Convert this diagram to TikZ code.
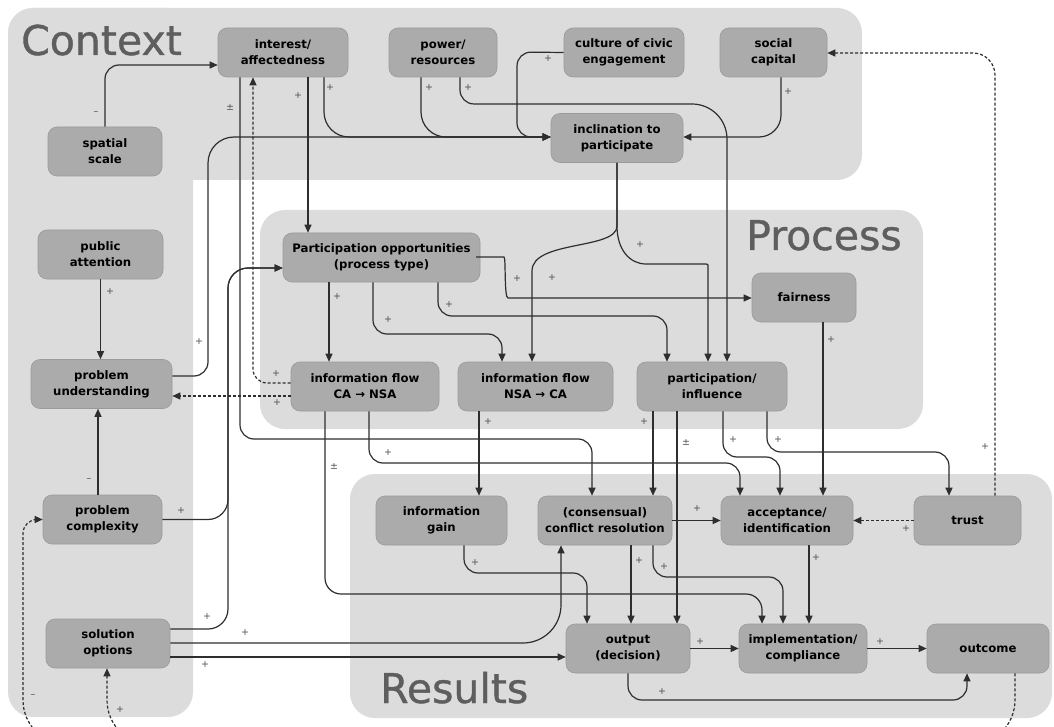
\documentclass[tikz,border=0pt]{standalone}
\usepackage{fontspec}
\setmainfont{DejaVu Sans}
\newfontfamily\bigfont{DejaVu Sans}[FakeBold=0.9]
\usetikzlibrary{arrows.meta}
\definecolor{regc}{HTML}{DCDCDC}
\definecolor{boxc}{HTML}{ABABAB}
\definecolor{boxd}{HTML}{9A9A9A}
\definecolor{linec}{HTML}{2E2E2E}
\definecolor{labc}{HTML}{505050}
\definecolor{bigc}{HTML}{5E5E5E}
\begin{document}
\begin{tikzpicture}[x=1pt,y=-1pt,
 box/.style={draw=boxd, fill=boxc, line width=0.6pt, rounded corners=9pt, minimum height=49pt, align=center, inner sep=2pt, text=black, font=\fontsize{11.7}{16}\selectfont\bfseries},
 conn/.style={draw=linec, line width=1.2pt, rounded corners=14pt},
 arr/.style={-{Triangle[length=8pt,width=7pt]}},
 dsh/.style={dash pattern=on 3pt off 2pt},
 lab/.style={text=labc, font=\fontsize{9.5}{9.5}\selectfont, inner sep=0pt},
 big/.style={text=bigc, font=\bigfont\fontsize{41}{41}\selectfont, anchor=base west, inner sep=0pt}]
\useasboundingbox (0,0) rectangle (1054,727);
% regions
\fill[regc, rounded corners=25pt] (8,8) rectangle (862,180);
\fill[regc, rounded corners=25pt] (8,8) rectangle (193,717);
\fill[regc, rounded corners=25pt] (260,210) rectangle (923,429);
\fill[regc, rounded corners=25pt] (350,474) rectangle (1052,718);
\node[big] (tcontext) at (21,55) {Context};
\node[big] (tprocess) at (746,250) {Process};
\node[big] (tresults) at (380,703) {Results};
% nodes
\node[box, minimum width=130pt] (ia) at (283,52.5) {interest/\\affectedness};
\node[box, minimum width=108pt] (pr) at (443,52.5) {power/\\resources};
\node[box, minimum width=120pt] (cce) at (624,52.5) {culture of civic\\engagement};
\node[box, minimum width=107pt] (sc) at (773.5,52.5) {social\\capital};
\node[box, minimum width=114pt] (ss) at (105,151.5) {spatial\\scale};
\node[box, minimum width=132pt] (inc) at (617,138) {inclination to\\participate};
\node[box, minimum width=125pt] (pa) at (100.5,254.5) {public\\attention};
\node[box, minimum width=141pt] (pu) at (101.5,384) {problem\\understanding};
\node[box, minimum width=197pt] (po) at (381.5,257.5) {Participation opportunities\\(process type)};
\node[box, minimum width=148pt] (cn) at (365,386.5) {information flow\\CA → NSA};
\node[box, minimum width=155pt] (nc) at (535.5,386.5) {information flow\\NSA → CA};
\node[box, minimum width=150pt] (pi) at (712,386.5) {participation/\\influence};
\node[box, minimum width=104pt] (fa) at (804,297.5) {fairness};
\node[box, minimum width=131pt] (ig) at (441.5,520.5) {information\\gain};
\node[box, minimum width=134pt] (cr) at (605,520.5) {(consensual)\\conflict resolution};
\node[box, minimum width=132pt] (ac) at (787,520.5) {acceptance/\\identification};
\node[box, minimum width=107pt] (tr) at (967.5,520.5) {trust};
\node[box, minimum width=119pt] (pc) at (102.5,519.5) {problem\\complexity};
\node[box, minimum width=124pt] (so) at (108,643.5) {solution\\options};
\node[box, minimum width=124pt] (ou) at (628,648.5) {output\\(decision)};
\node[box, minimum width=128pt] (im) at (803,648.5) {implementation/\\compliance};
\node[box, minimum width=122pt] (oc) at (988,648.5) {outcome};
% connectors: context
\draw[conn,arr] (ss.north) |- (ia.west |- 0,65);
\draw[conn,arr] (ia.south -| 240,0) -- (240,439) -- (592,439) -- (cr.north -| 592,0);
\draw[conn,arr] (ia.south -| 308,0) -- (po.north -| 308,0);
\draw[conn,arr,rounded corners=25pt] (ia.south -| 324,0) -- (324,137) -- (inc.west |- 0,137);
\draw[conn,arr,rounded corners=25pt] (pr.south -| 421,0) -- (421,137) -- (inc.west |- 0,137);
\draw[conn,arr] (pr.south -| 460,0) -- (460,104) [rounded corners=35pt] -- (727,104) -- (pi.north -| 727,0);
\draw[conn,arr] (cce.west) -- (517,52) -- (517,137) -- (inc.west |- 0,137);
\draw[conn,arr,rounded corners=22pt] (sc.south -| 781,0) -- (781,137) -- (inc.east |- 0,137);
\draw[conn,arr] (pu.east |- 0,376) -- (208,376) [rounded corners=26pt] -- (208,137) -- (inc.west |- 0,137);
\draw[conn,arr] (pa.south) -- (pa.south |- pu.north);
\draw[conn,arr] (pc.north -| 98,0) -- (pu.south -| 98,0);
\draw[conn,arr,rounded corners=20pt] (pc.east) -- (228,519.5) -- (228,268) -- (po.west |- 0,268);
\draw[conn,arr,rounded corners=20pt] (so.east |- 0,629) -- (228,629) -- (228,268) -- (po.west |- 0,268);
\draw[conn,arr,rounded corners=38pt] (so.east |- 0,643) -- (561,643) -- (cr.south -| 561,0);
\draw[conn,arr] (so.east |- 0,657) -- (ou.west |- 0,657);
% inclination branches
\draw[conn,arr] (inc.south) -- (617,212) .. controls (617,250) and (532,240) .. (532,285) -- (nc.north -| 532,0);
\draw[conn,arr] (inc.south) -- (617,212) .. controls (617,250) and (630,264) .. (660,264) -- (692,264) .. controls (708,264) and (708,264) .. (708,282) -- (pi.north -| 708,0);
% process
\draw[conn,arr] (po.east |- 0,257) -- (490,257) .. controls (506,257) and (504,298) .. (522,298) -- (fa.west |- 0,298);
\draw[conn,arr] (po.south -| 438,0) -- (438,316) -- (667,316) -- (pi.north -| 667,0);
\draw[conn,arr] (po.south -| 373,0) -- (373,334) -- (502,334) -- (nc.north -| 502,0);
\draw[conn,arr] (po.south -| 329,0) -- (cn.north -| 329,0);
\draw[conn,arr,dsh] (cn.west |- 0,383) -- (253,383) -- (ia.south -| 253,0);
\draw[conn,arr,dsh] (cn.west |- 0,396) -- (pu.east |- 0,396);
\draw[conn,arr,rounded corners=16pt] (cn.south -| 325,0) -- (325,594) -- (762,594) -- (im.north -| 762,0);
\draw[conn,arr] (cn.south -| 369,0) -- (369,463) -- (740,463) -- (ac.north -| 740,0);
\draw[conn,arr] (nc.south -| 479,0) -- (ig.north -| 479,0);
\draw[conn,arr] (pi.south -| 653,0) -- (cr.north -| 653,0);
\draw[conn,arr] (pi.south -| 677,0) -- (ou.north -| 677,0);
\draw[conn,arr] (pi.south -| 723,0) -- (723,457) -- (780,457) -- (ac.north -| 780,0);
\draw[conn,arr] (pi.south -| 767,0) -- (767,452) -- (949,452) -- (tr.north -| 949,0);
\draw[conn,arr] (fa.south -| 823,0) -- (ac.north -| 823,0);
% results
\draw[conn,arr,dsh,rounded corners=22pt] (tr.north -| 995,0) -- (995,53) -- (sc.east |- 0,53);
\draw[conn,arr,dsh] (tr.west) -- (ac.east);
\draw[conn,arr] (cr.east) -- (ac.west);
\draw[conn,arr] (cr.south -| 631,0) -- (ou.north -| 631,0);
\draw[conn,arr] (cr.south -| 653,0) -- (653,577) -- (783,577) -- (im.north -| 783,0);
\draw[conn,arr] (ac.south -| 809,0) -- (im.north -| 809,0);
\draw[conn,arr] (ig.south -| 464,0) -- (464,573) -- (587,573) -- (ou.north -| 587,0);
\draw[conn,arr] (ou.east) -- (im.west);
\draw[conn,arr] (ou.south -| 628,0) -- (628,700) -- (967,700) -- (oc.south -| 967,0);
\draw[conn,arr] (im.east) -- (oc.west);
% feedback from outcome
\draw[conn,arr,dsh,rounded corners=45pt] (oc.south -| 1015,0) -- (1015,745) -- (23,745) [rounded corners=14pt] -- (23,519.5) -- (pc.west);
\draw[conn,arr,dsh,rounded corners=45pt] (400,745) -- (107,745) -- (so.south -| 107,0);
% labels
\node[lab] (l01) at (96,113) {–};
\node[lab] (l02) at (230,108) {±};
\node[lab] (l03) at (298,96) {+};
\node[lab] (l04) at (330,88) {+};
\node[lab] (l05) at (429,88) {+};
\node[lab] (l06) at (468,88) {+};
\node[lab] (l07) at (548,59) {+};
\node[lab] (l08) at (788,92) {+};
\node[lab] (l09) at (199,342) {+};
\node[lab] (l10) at (110,292) {+};
\node[lab] (l11) at (89,480) {–};
\node[lab] (l12) at (181,511) {+};
\node[lab] (l13) at (207,617) {+};
\node[lab] (l14) at (245,633) {+};
\node[lab] (l15) at (205,665) {+};
\node[lab] (l16) at (33,696) {–};
\node[lab] (l17) at (120,710) {+};
\node[lab] (l18) at (276,374) {+};
\node[lab] (l19) at (277,403) {+};
\node[lab] (l20) at (337,297) {+};
\node[lab] (l21) at (388,320) {+};
\node[lab] (l22) at (449,305) {+};
\node[lab] (l23) at (517,279) {+};
\node[lab] (l24) at (552,278) {+};
\node[lab] (l25) at (640,245) {+};
\node[lab] (l26) at (334,467) {±};
\node[lab] (l27) at (388,453) {+};
\node[lab] (l28) at (488,422) {+};
\node[lab] (l29) at (644,422) {+};
\node[lab] (l30) at (686,443) {±};
\node[lab] (l31) at (733,440) {+};
\node[lab] (l32) at (778,440) {+};
\node[lab] (l33) at (831,340) {+};
\node[lab] (l34) at (985,447) {+};
\node[lab] (l35) at (906,529) {+};
\node[lab] (l36) at (697,509) {+};
\node[lab] (l37) at (639,561) {+};
\node[lab] (l38) at (664,567) {+};
\node[lab] (l39) at (816,558) {+};
\node[lab] (l40) at (475,563) {+};
\node[lab] (l41) at (700,642) {+};
\node[lab] (l42) at (662,692) {+};
\node[lab] (l43) at (880,642) {+};
\end{tikzpicture}
\end{document}
